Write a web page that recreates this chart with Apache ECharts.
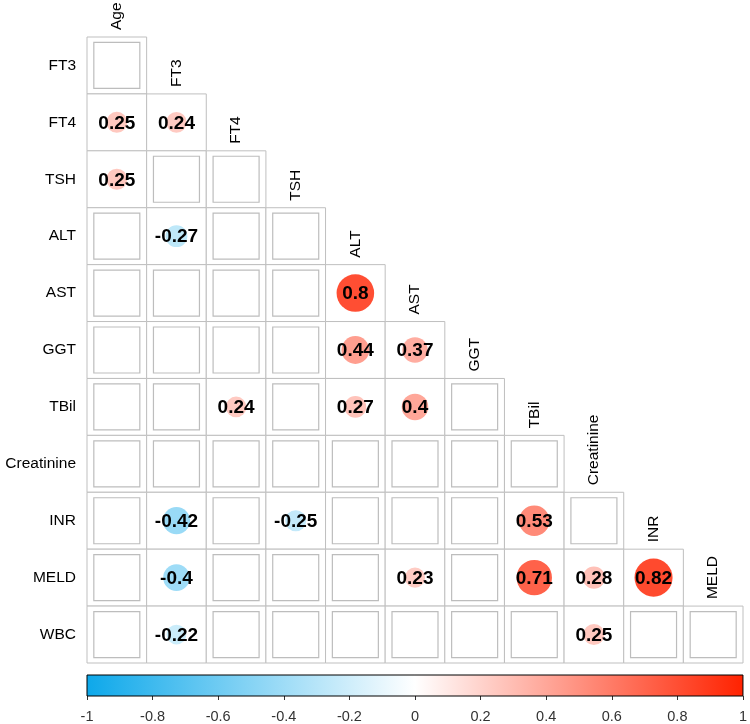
<!DOCTYPE html>
<html>
<head>
<meta charset="utf-8">
<script src="https://cdn.jsdelivr.net/npm/echarts@6/dist/echarts.min.js"></script>
<style>
html,body{margin:0;padding:0;background:#fff;}
#chart{width:750px;height:724px;}
</style>
</head>
<body>
<div id="chart"></div>
<script>
// Row and column variables of the lower-triangle correlation matrix
const rowLabels = ['FT3','FT4','TSH','ALT','AST','GGT','TBil','Creatinine','INR','MELD','WBC'];
const colLabels = ['Age','FT3','FT4','TSH','ALT','AST','GGT','TBil','Creatinine','INR','MELD'];

// Significant correlations per row (null = not significant / blank), columns Age..diagonal
const rowFT3        = [null];
const rowFT4        = [0.25, 0.24];
const rowTSH        = [0.25, null, null];
const rowALT        = [null, -0.27, null, null];
const rowAST        = [null, null, null, null, 0.8];
const rowGGT        = [null, null, null, null, 0.44, 0.37];
const rowTBil       = [null, null, 0.24, null, 0.27, 0.4, null];
const rowCreatinine = [null, null, null, null, null, null, null, null];
const rowINR        = [null, -0.42, null, -0.25, null, null, null, 0.53, null];
const rowMELD       = [null, -0.4, null, null, null, 0.23, null, 0.71, 0.28, 0.82];
const rowWBC        = [null, -0.22, null, null, null, null, null, null, 0.25, null, null];

// Colour scale (-1 .. 0 .. 1)
const paletteColors = ['#0DA8EA', '#FFFFFF', '#FF2200'];
const colorbarMin = -1;
const colorbarMax = 1;
const colorbarStep = 0.2;

const matrixRows = [rowFT3,rowFT4,rowTSH,rowALT,rowAST,rowGGT,rowTBil,rowCreatinine,rowINR,rowMELD,rowWBC];

const cellData = [];
matrixRows.forEach((row, i) => {
  row.forEach((v, j) => { cellData.push({ value: [j, i], corr: v }); });
});
const colLabelData = colLabels.map((name, j) => ({ value: [j, j], name: name }));

function hexToRgb(h){ h=h.replace('#',''); return [parseInt(h.substr(0,2),16),parseInt(h.substr(2,2),16),parseInt(h.substr(4,2),16)]; }
function corrColor(v){
  const w = hexToRgb(paletteColors[1]);
  const e = hexToRgb(v < 0 ? paletteColors[0] : paletteColors[2]);
  const t = Math.min(1, Math.abs(v));
  const c = w.map((a, k) => Math.round(a + (e[k] - a) * t));
  return 'rgb(' + c.join(',') + ')';
}

const FONT = 'Liberation Sans, Arial, Helvetica, sans-serif';
const chart = echarts.init(document.getElementById('chart'), null, {renderer: 'canvas'});

chart.setOption({
  animation: false,
  backgroundColor: '#ffffff',
  grid: [
    { left: 87, top: 37, width: 656, height: 626 },
    { left: 87, top: 675, width: 656, height: 23 }
  ],
  xAxis: [
    { type: 'category', gridIndex: 0, data: colLabels, show: false },
    { type: 'value', gridIndex: 1, min: colorbarMin, max: colorbarMax, interval: colorbarStep,
      position: 'bottom',
      axisLine: { show: false },
      axisTick: { show: true, length: 4, lineStyle: { color: '#333', width: 1 } },
      splitLine: { show: false },
      axisLabel: { margin: 13, fontSize: 14.5, color: '#333', fontFamily: FONT,
        formatter: v => String(Math.round(v * 10) / 10) } }
  ],
  yAxis: [
    { type: 'category', gridIndex: 0, data: rowLabels, inverse: true,
      axisLine: { show: false }, axisTick: { show: false }, splitLine: { show: false },
      axisLabel: { margin: 11, fontSize: 15.5, color: '#000', fontFamily: FONT } },
    { type: 'value', gridIndex: 1, min: 0, max: 1, show: false }
  ],
  series: [
    {
      type: 'custom', xAxisIndex: 0, yAxisIndex: 0, clip: false,
      data: cellData,
      renderItem: function (params, api) {
        const d = cellData[params.dataIndex];
        const c = api.coord([api.value(0), api.value(1)]);
        const s = api.size([1, 1]);
        const w = s[0], h = s[1];
        const children = [{
          type: 'rect',
          shape: { x: c[0] - w / 2, y: c[1] - h / 2, width: w, height: h },
          style: { fill: '#fff', stroke: '#bfbfbf', lineWidth: 1 }
        }];
        if (d.corr === null) {
          const q = 46;
          children.push({
            type: 'rect',
            shape: { x: c[0] - q / 2, y: c[1] - q / 2, width: q, height: q },
            style: { fill: 'none', stroke: '#bdbdbd', lineWidth: 1.2 }
          });
        } else {
          children.push({
            type: 'circle',
            shape: { cx: c[0], cy: c[1], r: 21 * Math.sqrt(Math.abs(d.corr)) },
            style: { fill: corrColor(d.corr) }
          });
          children.push({
            type: 'text',
            x: c[0], y: c[1] + 1,
            style: { text: String(d.corr), fill: '#000', fontSize: 19, fontWeight: 'bold',
              fontFamily: FONT, align: 'center', verticalAlign: 'middle' }
          });
        }
        return { type: 'group', children: children };
      }
    },
    {
      type: 'custom', xAxisIndex: 0, yAxisIndex: 0, clip: false,
      data: colLabelData,
      renderItem: function (params, api) {
        const d = colLabelData[params.dataIndex];
        const c = api.coord([api.value(0), api.value(1)]);
        const s = api.size([1, 1]);
        return {
          type: 'text',
          x: c[0], y: c[1] - s[1] / 2 - 7,
          rotation: Math.PI / 2,
          style: { text: d.name, fill: '#000', fontSize: 15.5, fontFamily: FONT,
            align: 'left', verticalAlign: 'middle' }
        };
      }
    },
    {
      type: 'custom', xAxisIndex: 1, yAxisIndex: 1, clip: false,
      data: [[0, 0]],
      renderItem: function (params, api) {
        const cs = params.coordSys;
        return {
          type: 'rect',
          shape: { x: cs.x, y: cs.y, width: cs.width, height: cs.height },
          style: {
            fill: { type: 'linear', x: 0, y: 0, x2: 1, y2: 0, colorStops: [
              { offset: 0, color: paletteColors[0] },
              { offset: 0.5, color: paletteColors[1] },
              { offset: 1, color: paletteColors[2] }
            ] },
            stroke: '#000', lineWidth: 1
          }
        };
      }
    }
  ]
});
</script>
</body>
</html>
